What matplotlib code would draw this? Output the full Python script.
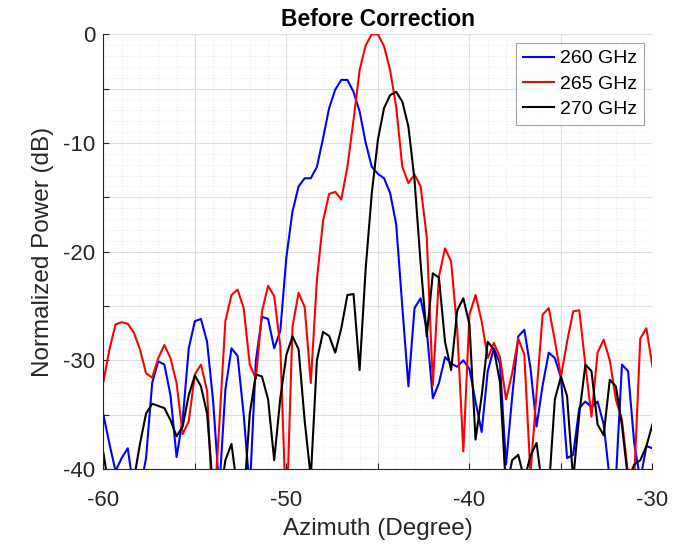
import numpy as np
import matplotlib
matplotlib.use("Agg")
import matplotlib.pyplot as plt
from matplotlib.ticker import MultipleLocator, FuncFormatter

# Azimuth samples, 1/3 degree steps from -60 to -30
azimuth = np.linspace(-60, -30, 91)

power_260 = [
    -35.0, -37.7, -40.2, -39.0, -38.1, -42.0, -42.0, -39.0, -32.1, -30.1,
    -30.4, -33.2, -38.9, -35.5, -28.9, -26.4, -26.2, -28.3, -33.8, -42.0,
    -32.7, -28.9, -29.6, -35.0, -42.0, -30.0, -26.0, -26.2, -28.9, -27.3,
    -20.5, -16.3, -14.0, -13.25, -13.25, -12.2, -9.6, -6.8, -5.1, -4.2,
    -4.2, -5.3, -7.1, -10.0, -12.2, -12.85, -13.25, -14.6, -17.5, -25.1,
    -32.4, -25.2, -24.3, -27.2, -33.5, -32.1, -29.7, -30.3, -30.6, -30.0,
    -30.8, -33.8, -36.6, -31.0, -28.9, -30.3, -39.6, -33.4, -27.8, -27.2,
    -30.7, -36.1, -32.3, -29.3, -29.8, -31.6, -39.0, -38.7, -34.4, -33.8,
    -34.3, -33.8, -35.9, -41.0, -41.0, -30.4, -31.0, -37.6, -41.0, -37.9,
    -38.1,
]

power_265 = [
    -32.0, -29.0, -26.7, -26.5, -26.65, -27.45, -29.0, -31.2, -31.6, -29.8,
    -28.6, -29.8, -32.1, -36.8, -35.6, -31.3, -30.4, -32.8, -45.0, -36.0,
    -26.4, -24.0, -23.5, -25.2, -30.4, -31.7, -25.5, -23.15, -24.1, -28.7,
    -45.0, -26.9, -23.8, -25.1, -32.1, -22.6, -17.2, -14.7, -14.5, -15.2,
    -12.2, -7.9, -3.3, -1.0, 0.0, 0.0, -1.1, -3.3, -6.7, -12.2,
    -13.7, -12.9, -14.0, -18.6, -32.3, -22.3, -19.7, -20.9, -27.2, -38.4,
    -25.8, -24.0, -26.4, -29.8, -28.4, -29.7, -33.6, -31.2, -28.0, -29.5,
    -40.5, -33.0, -25.8, -25.2, -28.2, -31.5, -28.3, -25.5, -25.4, -30.4,
    -35.2, -29.3, -28.1, -30.0, -33.6, -35.5, -40.5, -41.0, -28.0, -27.05,
    -30.6,
]

power_270 = [
    -38.5, -42.0, -43.0, -43.0, -42.0, -41.0, -37.7, -34.9, -34.0, -34.2,
    -34.4, -35.5, -37.0, -36.1, -33.2, -31.4, -32.4, -34.9, -42.0, -43.0,
    -39.2, -37.7, -42.0, -43.0, -34.9, -31.3, -31.5, -33.6, -39.2, -33.5,
    -29.5, -27.8, -29.0, -35.6, -40.8, -30.0, -27.4, -27.75, -29.3, -27.05,
    -24.0, -23.9, -30.9, -21.5, -14.6, -9.7, -6.8, -5.6, -5.3, -6.2,
    -8.5, -13.4, -21.1, -27.8, -22.0, -22.4, -28.3, -30.9, -25.4, -24.3,
    -26.7, -37.3, -33.3, -28.3, -29.0, -32.0, -42.0, -39.2, -38.7, -41.0,
    -38.8, -37.6, -42.0, -42.0, -33.6, -31.5, -33.3, -41.0, -35.0, -30.4,
    -31.0, -35.9, -36.9, -31.8, -32.4, -36.0, -41.0, -39.6, -39.2, -37.9,
    -35.9,
]

series_labels = ["260 GHz", "265 GHz", "270 GHz"]
series_colors = ["#0000ff", "#ff0000", "#000000"]

plt.rcParams["font.family"] = ["Liberation Sans", "DejaVu Sans"]
plt.rcParams["axes.unicode_minus"] = False

axis_grey = "#262626"

fig = plt.figure(figsize=(6.89, 5.44), dpi=100)
ax = fig.add_axes([0.150, 0.138, 0.797, 0.799])

for vals, lab, col in zip([power_260, power_265, power_270], series_labels, series_colors):
    ax.plot(azimuth, vals, color=col, linewidth=1.5, label=lab)

ax.set_xlim(-60, -30)
ax.set_ylim(-40, 0)

ax.xaxis.set_major_locator(MultipleLocator(5))
ax.yaxis.set_major_locator(MultipleLocator(5))
ax.xaxis.set_minor_locator(MultipleLocator(1))
ax.yaxis.set_minor_locator(MultipleLocator(1))

def every_ten(v, pos):
    return "%d" % round(v) if round(v) % 10 == 0 else ""

ax.xaxis.set_major_formatter(FuncFormatter(every_ten))
ax.yaxis.set_major_formatter(FuncFormatter(every_ten))

ax.grid(True, which="major", color="#e0e0e0", linewidth=0.8, linestyle="-")
ax.grid(True, which="minor", color="#e8e8e8", linewidth=0.7, linestyle=(0, (1, 2)))
ax.set_axisbelow(True)

ax.tick_params(which="major", direction="in", length=4, width=0.8,
               colors=axis_grey, labelsize=16)
ax.tick_params(axis="x", pad=15)
ax.tick_params(axis="y", pad=6)
ax.tick_params(which="minor", length=0)
ax.tick_params(top=False, right=False)

for side in ["top", "right"]:
    ax.spines[side].set_visible(False)
for side in ["left", "bottom"]:
    ax.spines[side].set_color(axis_grey)
    ax.spines[side].set_linewidth(0.8)

ax.set_xlabel("Azimuth (Degree)", fontsize=17.5, color=axis_grey, labelpad=5)
ax.set_ylabel("Normalized Power (dB)", fontsize=17.5, color=axis_grey, labelpad=6)
ax.set_title("Before Correction", fontsize=16.5, fontweight="bold", pad=6)

leg = ax.legend(loc="upper right", fontsize=14, frameon=True, fancybox=False,
                borderaxespad=0.45, handlelength=1.6, handletextpad=0.3,
                labelspacing=0.4, borderpad=0.35)
leg.get_frame().set_edgecolor("#8c8c8c")
leg.get_frame().set_linewidth(0.8)

fig.savefig("out.png", dpi=100)
